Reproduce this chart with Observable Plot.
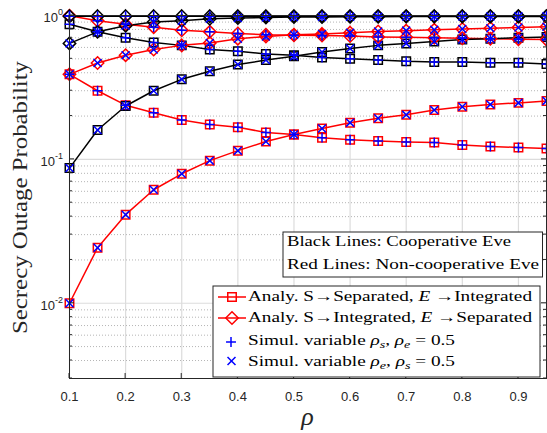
<!DOCTYPE html>
<html><head><meta charset="utf-8">
<script src="https://cdn.jsdelivr.net/npm/d3@7"></script>
<script src="https://cdn.jsdelivr.net/npm/@observablehq/plot@0.6"></script>
<style>
html,body{margin:0;padding:0;background:#fff;}
svg{display:block;}
</style></head><body><div id="chart"></div>
<script>
// ---------- data ----------
const rho = [0.1,0.15,0.2,0.25,0.3,0.35,0.4,0.45,0.5,0.55,0.6,0.65,0.7,0.75,0.8,0.85,0.9,0.95];
const xTicks = [0.1,0.2,0.3,0.4,0.5,0.6,0.7,0.8,0.9];
const yMajor = [0.01,0.1,1];
const yMajorExp = ["-2","-1","0"];

// Non-cooperative Eve (red)
const noncoopSepInt_varRhoE = [0.01,0.0243,0.0413,0.0615,0.0794,0.098,0.115,0.133,0.149,0.164,0.180,0.193,0.204,0.220,0.232,0.241,0.247,0.255];
const noncoopSepInt_varRhoS = [0.39,0.30,0.238,0.211,0.188,0.175,0.167,0.154,0.149,0.1416,0.137,0.134,0.132,0.131,0.126,0.123,0.121,0.119];
const noncoopIntSep_varRhoE = [0.39,0.468,0.53,0.58,0.62,0.645,0.69,0.715,0.735,0.745,0.76,0.775,0.785,0.795,0.805,0.815,0.825,0.835];
const noncoopIntSep_varRhoS = [0.995,0.92,0.87,0.83,0.79,0.77,0.75,0.735,0.73,0.725,0.72,0.71,0.705,0.70,0.695,0.69,0.685,0.68];
// Cooperative Eve (black)
const coopSepInt_varRhoE = [0.087,0.16,0.235,0.30,0.36,0.41,0.456,0.49,0.52,0.557,0.59,0.62,0.64,0.66,0.68,0.69,0.70,0.71];
const coopSepInt_varRhoS = [0.87,0.77,0.70,0.65,0.62,0.58,0.565,0.54,0.53,0.51,0.50,0.49,0.48,0.475,0.475,0.47,0.47,0.46];
const coopIntSep_varRhoS = [0.99,0.99,0.99,0.99,0.99,0.99,0.99,0.99,0.99,0.99,0.99,0.99,0.99,0.99,0.99,0.99,0.99,0.99];
const coopIntSep_varRhoE = [0.64,0.77,0.85,0.90,0.92,0.95,0.96,0.97,0.975,0.978,0.98,0.982,0.983,0.984,0.985,0.985,0.986,0.986];

const legendLabels = [
  "Analy. S→Separated, E →Integrated",
  "Analy. S→Integrated, E →Separated",
  "Simul. variable ρs, ρe = 0.5",
  "Simul. variable ρe, ρs = 0.5"
];
const noteLabels = ["Black Lines: Cooperative Eve", "Red Lines: Non-cooperative Eve"];

const RED = "#ff0000", BLACK = "#000000", BLUE = "#0000ff";
const seriesMeta = [
  {name:"nc-si-e", values:noncoopSepInt_varRhoE, color:RED,   shape:"square",  sim:"times"},
  {name:"nc-si-s", values:noncoopSepInt_varRhoS, color:RED,   shape:"square",  sim:"plus"},
  {name:"nc-is-e", values:noncoopIntSep_varRhoE, color:RED,   shape:"diamond", sim:"times"},
  {name:"nc-is-s", values:noncoopIntSep_varRhoS, color:RED,   shape:"diamond", sim:"plus"},
  {name:"c-si-e",  values:coopSepInt_varRhoE,    color:BLACK, shape:"square",  sim:"times"},
  {name:"c-si-s",  values:coopSepInt_varRhoS,    color:BLACK, shape:"square",  sim:"plus"},
  {name:"c-is-s",  values:coopIntSep_varRhoS,    color:BLACK, shape:"diamond", sim:"plus"},
  {name:"c-is-e",  values:coopIntSep_varRhoE,    color:BLACK, shape:"diamond", sim:"times"}
];
const rows = seriesMeta.flatMap(s => s.values.map((p,i) => ({rho: rho[i], p, series: s.name, color: s.color, shape: s.shape, sim: s.sim})));

const yMinor = [];
for (const d of [0.001,0.01,0.1]) for (let k=2;k<=9;k++){ const v=+(k*d).toPrecision(3); if (v>=0.003 && v<1) yMinor.push(v); }

const SQ_R = 5.4, DI_R = 5.6, PL_R = 3.3, TI_R = 3.7;

const plot = Plot.plot({
  width: 547, height: 433,
  marginLeft: 69, marginRight: 1, marginTop: 15, marginBottom: 55,
  style: {fontFamily: "'Liberation Sans', Arial, sans-serif", fontSize: "13px", color: "#262626", background: "#fff", overflow: "visible"},
  x: {domain: [0.1, 0.95]},
  y: {type: "log", domain: [0.003, 1], axis: null},
  color: {type: "identity"},
  marks: [
    Plot.gridX(xTicks, {stroke: "#dcdcdc", strokeOpacity: 1, strokeWidth: 1.2}),
    Plot.ruleY(yMinor, {stroke: "#b5b5b5", strokeOpacity: 1, strokeDasharray: "1,2"}),
    Plot.gridY(yMajor, {stroke: "#dcdcdc", strokeOpacity: 1, strokeWidth: 1.2}),
    Plot.line(rows, {x: "rho", y: "p", z: "series", stroke: "color", strokeWidth: 1.5}),
    Plot.dot(rows, {filter: d => d.shape === "square", x: "rho", y: "p", symbol: "square2", r: SQ_R, stroke: "color", fill: "none", strokeWidth: 1.5}),
    Plot.dot(rows, {filter: d => d.shape === "diamond", x: "rho", y: "p", symbol: "diamond2", r: DI_R, stroke: "color", fill: "none", strokeWidth: 1.5}),
    Plot.dot(rows, {filter: d => d.sim === "plus", x: "rho", y: "p", symbol: "plus", r: PL_R, stroke: BLUE, fill: "none", strokeWidth: 1.5}),
    Plot.dot(rows, {filter: d => d.sim === "times", x: "rho", y: "p", symbol: "times", r: TI_R, stroke: BLUE, fill: "none", strokeWidth: 1.5}),
    Plot.frame({stroke: "#262626", strokeWidth: 1}),
    Plot.axisX(xTicks, {tickSize: 0, tickPadding: 13, tickFormat: d => d.toFixed(1), label: null, fill: "#262626", fontSize: 13})
  ]
});
document.getElementById("chart").appendChild(plot);

// ---------- decorations using the plot's scales ----------
const svg = d3.select(plot);
const xs = plot.scale("x"), ys = plot.scale("y");
const X = v => xs.apply(v), Y = v => ys.apply(v);
const [L, R] = xs.range, [B, T] = ys.range;

const tg = svg.append("g").attr("stroke", "#262626").attr("stroke-width", 1).attr("fill", "none");
xTicks.forEach(v => {
  const x = X(v);
  tg.append("line").attr("x1", x).attr("x2", x).attr("y1", B).attr("y2", B - 5);
  tg.append("line").attr("x1", x).attr("x2", x).attr("y1", T).attr("y2", T + 5);
});
yMajor.forEach(v => {
  const y = Y(v);
  tg.append("line").attr("x1", L).attr("x2", L + 5).attr("y1", y).attr("y2", y);
  tg.append("line").attr("x1", R).attr("x2", R - 5).attr("y1", y).attr("y2", y);
});
yMinor.forEach(v => {
  const y = Y(v);
  tg.append("line").attr("x1", L).attr("x2", L + 3).attr("y1", y).attr("y2", y);
  tg.append("line").attr("x1", R).attr("x2", R - 3).attr("y1", y).attr("y2", y);
});

// y tick labels 10^k
yMajor.forEach((v, i) => {
  const t = svg.append("text").attr("x", L - 6).attr("y", Y(v) + 7)
    .attr("text-anchor", "end").attr("fill", "#262626")
    .attr("font-family", "'Liberation Sans', Arial, sans-serif").attr("font-size", 13);
  t.append("tspan").text("10");
  t.append("tspan").attr("dy", -7).attr("font-size", 9).text(yMajorExp[i]);
});

const serif = "'Liberation Serif', 'Times New Roman', serif";
// y title
svg.append("text").attr("transform", `translate(27,${(T + B) / 2 + 1}) rotate(-90)`)
  .attr("text-anchor", "middle").attr("font-family", serif).attr("font-size", 22).attr("fill", "#262626")
  .attr("textLength", 273).attr("lengthAdjust", "spacingAndGlyphs")
  .text("Secrecy Outage Probability");
// x title
svg.append("text").attr("x", (L + R) / 2).attr("y", 425)
  .attr("text-anchor", "middle").attr("font-family", serif).attr("font-style", "italic").attr("font-size", 26).attr("fill", "#262626")
  .text("ρ");

// note box
const ng = svg.append("g");
ng.append("rect").attr("x", 283).attr("y", 232).attr("width", 259.5).attr("height", 45)
  .attr("fill", "#fff").attr("stroke", "#262626").attr("stroke-width", 1);
[[noteLabels[0], 246, 224], [noteLabels[1], 269, 252]].forEach(([s, y, w]) => {
  ng.append("text").attr("x", 287).attr("y", y).attr("text-anchor", "start").attr("font-family", serif).attr("font-size", 15).attr("fill", "#000")
    .attr("textLength", w).attr("lengthAdjust", "spacingAndGlyphs").text(s);
});

// legend box
const lg = svg.append("g");
lg.append("rect").attr("x", 213).attr("y", 286).attr("width", 327).attr("height", 91)
  .attr("fill", "#fff").attr("stroke", "#262626").attr("stroke-width", 1);
const sym = (type, r) => d3.symbol(type, Math.PI * r * r)();
const rowsY = [301, 322, 345, 366];
const mkY = [297, 318, 342, 361];
[[d3.symbolSquare2, SQ_R], [d3.symbolDiamond2, DI_R]].forEach(([type, r], i) => {
  lg.append("line").attr("x1", 218).attr("x2", 246).attr("y1", mkY[i]).attr("y2", mkY[i]).attr("stroke", RED).attr("stroke-width", 1.5);
  lg.append("path").attr("d", sym(type, r)).attr("transform", `translate(232,${mkY[i]})`).attr("fill", "none").attr("stroke", RED).attr("stroke-width", 1.5);
});
lg.append("path").attr("d", sym(d3.symbolPlus, PL_R)).attr("transform", `translate(231,${mkY[2]})`).attr("fill", "none").attr("stroke", BLUE).attr("stroke-width", 1.5);
lg.append("path").attr("d", sym(d3.symbolTimes, TI_R)).attr("transform", `translate(231.5,${mkY[3]})`).attr("fill", "none").attr("stroke", BLUE).attr("stroke-width", 1.5);

function legendText(y, w) {
  return lg.append("text").attr("x", 248).attr("y", y).attr("text-anchor", "start").attr("font-family", serif).attr("font-size", 15).attr("fill", "#000")
    .attr("textLength", w).attr("lengthAdjust", "spacingAndGlyphs");
}
{
  const t = legendText(rowsY[0], 284);
  t.append("tspan").text("Analy. S→Separated, ");
  t.append("tspan").attr("font-style", "italic").text("E");
  t.append("tspan").text(" →Integrated");
}
{
  const t = legendText(rowsY[1], 284);
  t.append("tspan").text("Analy. S→Integrated, ");
  t.append("tspan").attr("font-style", "italic").text("E");
  t.append("tspan").text(" →Separated");
}
[["s", "e"], ["e", "s"]].forEach(([a, b], k) => {
  const t = legendText(rowsY[2 + k], 207);
  t.append("tspan").text("Simul. variable ");
  t.append("tspan").attr("font-style", "italic").text("ρ");
  t.append("tspan").attr("font-style", "italic").attr("font-size", 11).attr("baseline-shift", "-3").text(a);
  t.append("tspan").text(", ");
  t.append("tspan").attr("font-style", "italic").text("ρ");
  t.append("tspan").attr("font-style", "italic").attr("font-size", 11).attr("baseline-shift", "-3").text(b);
  t.append("tspan").text(" = 0.5");
});
</script>
</body></html>
